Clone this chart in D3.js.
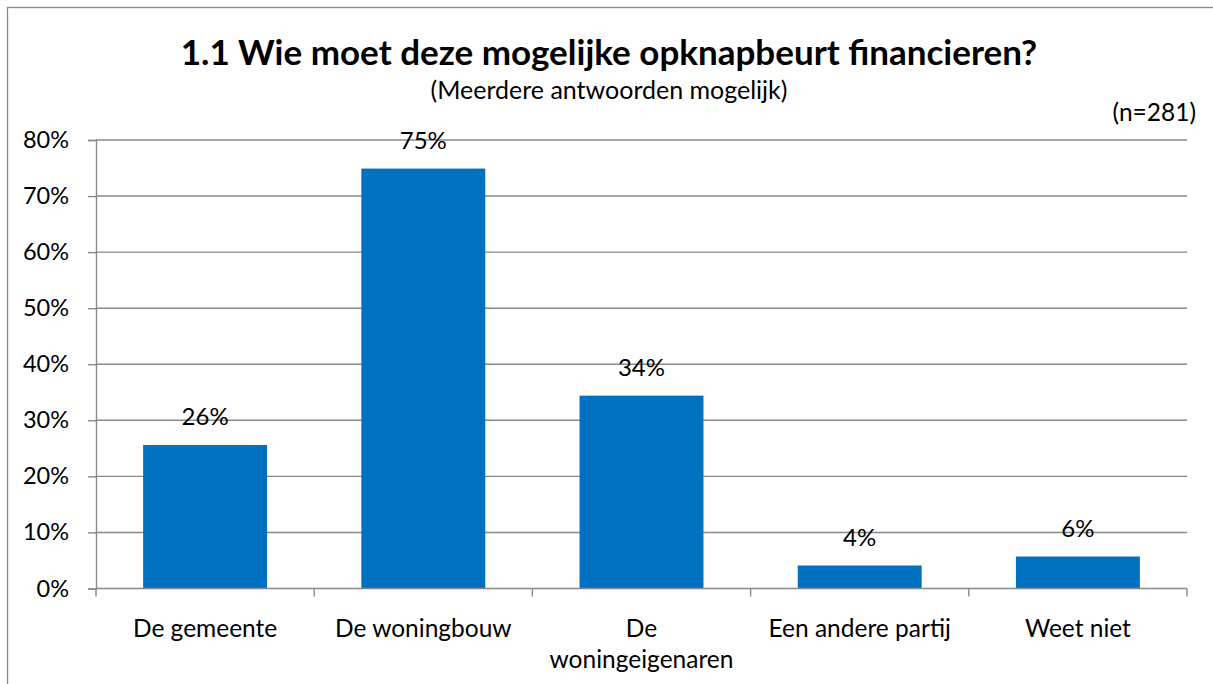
<!DOCTYPE html>
<html><head><meta charset="utf-8">
<script src="https://cdn.jsdelivr.net/npm/d3@7"></script>
<style>body{margin:0;background:#fff}svg{display:block}text{font-family:Lato,"Open Sans",sans-serif;fill:#000}</style>
</head><body><svg id="c" width="1213" height="684"></svg>
<script>
const categories = ["De gemeente", "De woningbouw", "De woningeigenaren", "Een andere partij", "Weet niet"];
const categoryLines = [["De gemeente"], ["De woningbouw"], ["De", "woningeigenaren"], ["Een andere partij"], ["Weet niet"]];
const values = [0.256, 0.749, 0.344, 0.041, 0.057];
const valueLabels = ["26%", "75%", "34%", "4%", "6%"];
const yTicks = [0, 0.1, 0.2, 0.3, 0.4, 0.5, 0.6, 0.7, 0.8];
const title = "1.1 Wie moet deze mogelijke opknapbeurt financieren?";
const subtitle = "(Meerdere antwoorden mogelijk)";
const note = "(n=281)";

const svg = d3.select("#c");
const m = {left: 96, right: 1187, top: 140, bottom: 588.5};
const grey = "#898989";

svg.append("rect").attr("x", 7.5).attr("y", 7.5).attr("width", 1300).attr("height", 800)
  .attr("fill", "none").attr("stroke", grey).attr("stroke-width", 1.3);

const x = d3.scaleBand().domain(categories).range([m.left, m.right]).paddingInner(0.432).paddingOuter(0.216);
const xOuter = d3.scaleBand().domain(categories).range([m.left, m.right]);
const y = d3.scaleLinear().domain([0, 0.8]).range([m.bottom, m.top]);

// gridlines
svg.append("g").selectAll("line").data(yTicks.filter(d => d > 0)).join("line")
  .attr("x1", m.left).attr("x2", m.right).attr("y1", d => y(d)).attr("y2", d => y(d))
  .attr("stroke", grey).attr("stroke-width", 1.4);

// y axis
const yAxis = svg.append("g").attr("transform", `translate(${m.left},0)`)
  .call(d3.axisLeft(y).tickValues(yTicks).tickFormat(d3.format(".0%")).tickSize(8).tickPadding(19));
yAxis.select(".domain").attr("stroke", grey).attr("stroke-width", 1.4);
yAxis.selectAll(".tick line").attr("stroke", grey).attr("stroke-width", 1.4);
yAxis.selectAll(".tick text").attr("font-size", 23.5).attr("font-family", "Lato").attr("fill", "#000");

// bars
svg.append("g").selectAll("rect").data(values).join("rect")
  .attr("x", (d, i) => x(categories[i])).attr("width", x.bandwidth())
  .attr("y", d => y(d)).attr("height", d => y(0) - y(d)).attr("fill", "#0070C0");

// x axis
const xAxisG = svg.append("g").attr("transform", `translate(0,${m.bottom})`);
xAxisG.append("line").attr("x1", m.left).attr("x2", m.right).attr("stroke", grey).attr("stroke-width", 1.4);
const bounds = categories.map(c => xOuter(c)).concat([m.right]);
xAxisG.selectAll("line.t").data(bounds).join("line").attr("class", "t")
  .attr("x1", d => d).attr("x2", d => d).attr("y1", 0).attr("y2", 8).attr("stroke", grey).attr("stroke-width", 1.4);

// category labels
categoryLines.forEach((lines, i) => {
  const t = svg.append("text").attr("text-anchor", "middle").attr("font-size", 24.5)
    .attr("x", x(categories[i]) + x.bandwidth() / 2).attr("y", 637);
  lines.forEach((l, j) => t.append("tspan").attr("x", x(categories[i]) + x.bandwidth() / 2).attr("dy", j ? 31 : 0).text(l));
});

// value labels
svg.append("g").selectAll("text").data(values).join("text")
  .attr("text-anchor", "middle").attr("font-size", 24)
  .attr("x", (d, i) => x(categories[i]) + x.bandwidth() / 2).attr("y", d => y(d) - 20)
  .text((d, i) => valueLabels[i]);

svg.append("text").attr("x", 609).attr("y", 65).attr("text-anchor", "middle")
  .attr("font-size", 35).attr("font-weight", "bold").text(title);
svg.append("text").attr("x", 609).attr("y", 99).attr("text-anchor", "middle")
  .attr("font-size", 25).text(subtitle);
svg.append("text").attr("x", 1196).attr("y", 121).attr("text-anchor", "end")
  .attr("font-size", 24.5).text(note);
</script></body></html>
